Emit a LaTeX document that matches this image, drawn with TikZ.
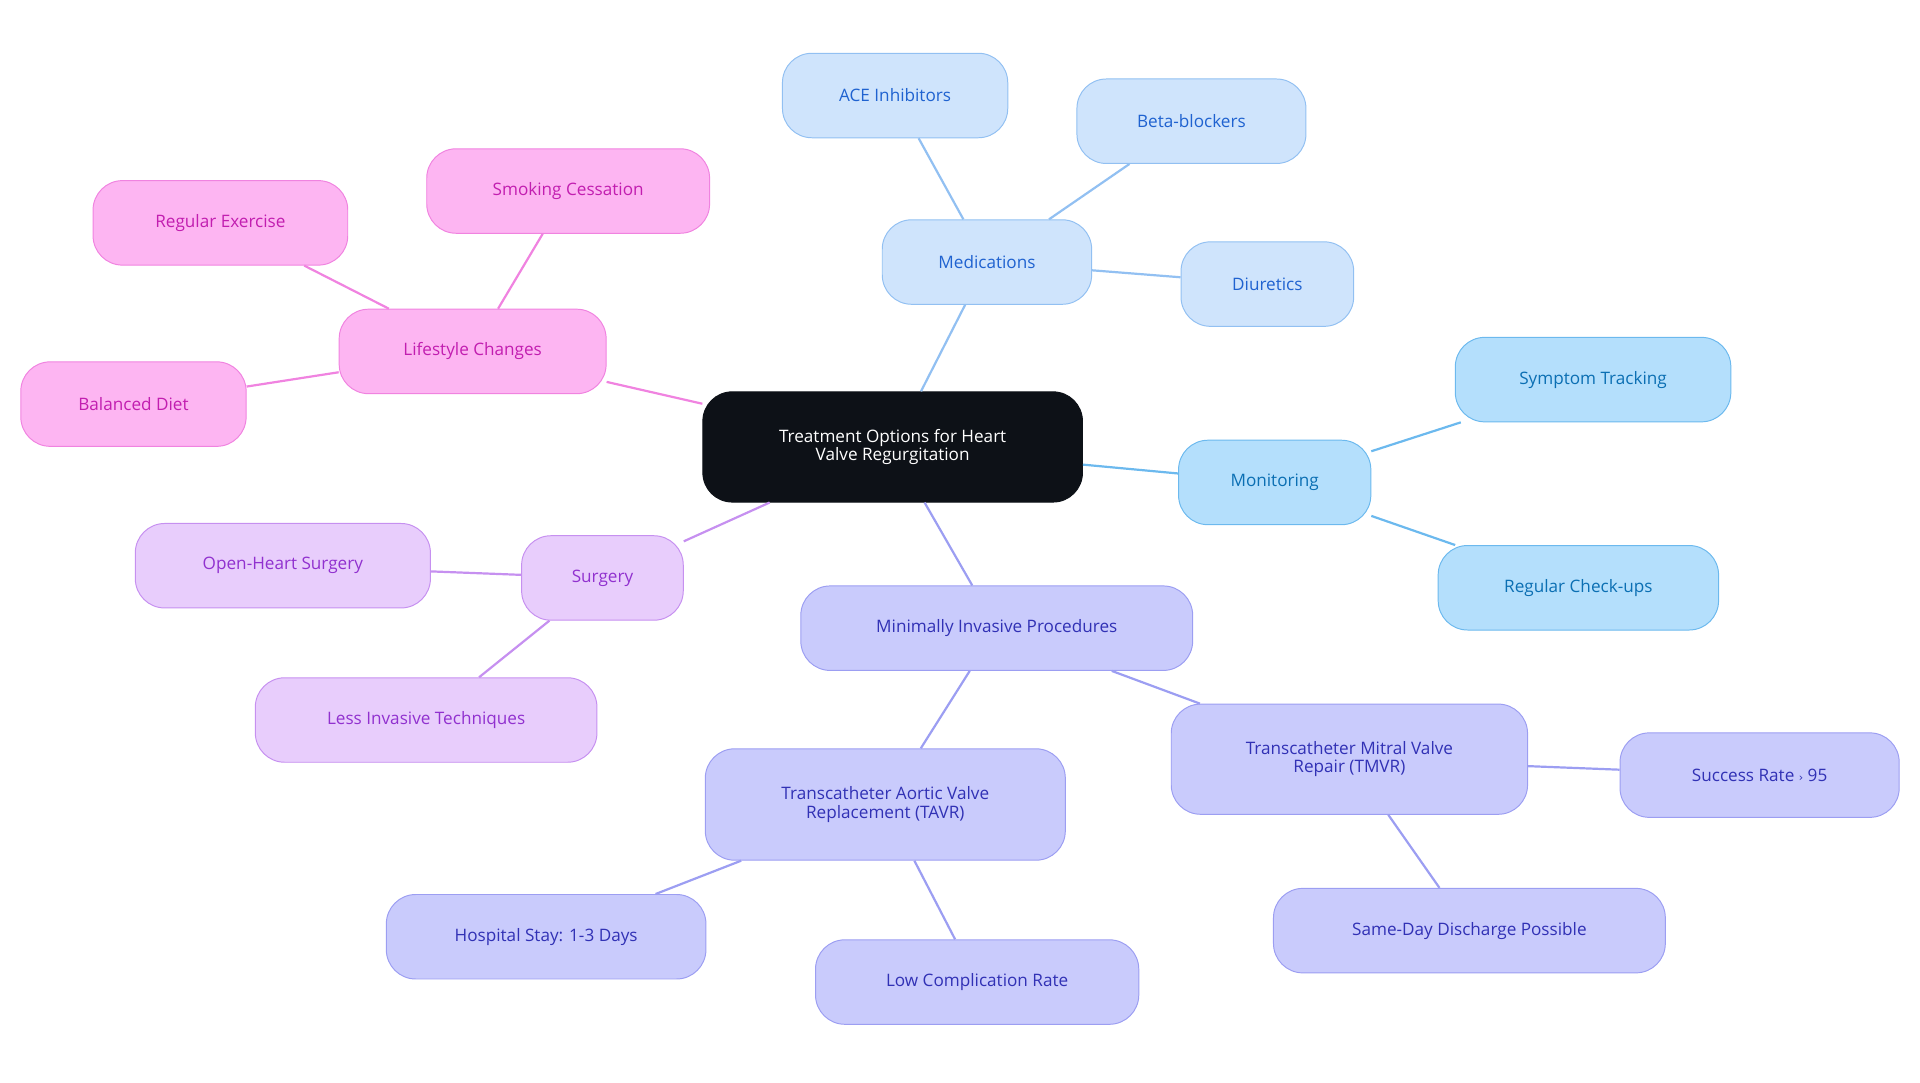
\documentclass[tikz,border=0pt]{standalone}
\usepackage{fontspec}
\setmainfont{Open Sans}
\begin{document}
\begin{tikzpicture}[x=1pt,y=-1pt,
 base/.style={draw,rounded corners=24pt,line width=0.8pt,align=center,font=\fontsize{14}{15}\selectfont,inner sep=0pt,minimum height=69pt},
 med/.style={base,fill=medF,draw=medD,text=medT},
 mon/.style={base,fill=monF,draw=monD,text=monT},
 min/.style={base,fill=minF,draw=minD,text=minT},
 sur/.style={base,fill=surF,draw=surD,text=surT},
 lif/.style={base,fill=lifF,draw=lifD,text=lifT},
 e/.style={line width=1.8pt}]
\definecolor{medF}{HTML}{CFE4FC}\definecolor{medD}{HTML}{92C0F2}\definecolor{medT}{HTML}{1F62D0}
\definecolor{monF}{HTML}{B4DFFC}\definecolor{monD}{HTML}{6CB9EE}\definecolor{monT}{HTML}{0B6FB3}
\definecolor{minF}{HTML}{C9CBFC}\definecolor{minD}{HTML}{9C9EF2}\definecolor{minT}{HTML}{3131B5}
\definecolor{surF}{HTML}{E8CDFC}\definecolor{surD}{HTML}{C690F0}\definecolor{surT}{HTML}{9131CF}
\definecolor{lifF}{HTML}{FDB5F2}\definecolor{lifD}{HTML}{F083E0}\definecolor{lifT}{HTML}{C21EB0}
\definecolor{rootF}{HTML}{0D1117}
\useasboundingbox (0,0) rectangle (1568,884);
\node[base,fill=rootF,draw=rootF,text=white,minimum width=310pt,minimum height=90pt] (root) at (729,365) {Treatment Options for Heart\\Valve Regurgitation};
\node[med,minimum width=171pt] (medi) at (806,214) {Medications};
\node[med,minimum width=184pt] (ace) at (731,78) {ACE Inhibitors};
\node[med,minimum width=187pt] (beta) at (973,99) {Beta-blockers};
\node[med,minimum width=141pt] (diu) at (1035,232) {Diuretics};
\node[mon,minimum width=157pt] (moni) at (1041,394) {Monitoring};
\node[mon,minimum width=225pt] (sym) at (1301,310) {Symptom Tracking};
\node[mon,minimum width=229pt] (chk) at (1289,480) {Regular Check-ups};
\node[min,minimum width=320pt] (mip) at (814,513) {Minimally Invasive Procedures};
\node[min,minimum width=291pt,minimum height=90pt] (tmvr) at (1102,620) {Transcatheter Mitral Valve\\Repair (TMVR)};
\node[min,minimum width=228pt] (succ) at (1437,633) {Success Rate {\fontspec{DejaVu Sans}\small›} 95};
\node[min,minimum width=320pt] (same) at (1200,760) {Same-Day Discharge Possible};
\node[min,minimum width=294pt,minimum height=91pt] (tavr) at (723,657) {Transcatheter Aortic Valve\\Replacement (TAVR)};
\node[min,minimum width=261pt] (hosp) at (446,765) {Hospital Stay: 1-3 Days};
\node[min,minimum width=264pt] (low) at (798,802) {Low Complication Rate};
\node[sur,minimum width=132pt] (surg) at (492,472) {Surgery};
\node[sur,minimum width=241pt] (open) at (231,462) {Open-Heart Surgery};
\node[sur,minimum width=279pt] (less) at (348,588) {Less Invasive Techniques};
\node[lif,minimum width=218pt] (life) at (386,287) {Lifestyle Changes};
\node[lif,minimum width=231pt] (smok) at (464,156) {Smoking Cessation};
\node[lif,minimum width=208pt] (exer) at (180,182) {Regular Exercise};
\node[lif,minimum width=184pt] (diet) at (109,330) {Balanced Diet};
\begin{scope}[on background layer/.style={}]
\end{scope}
\draw[e,medD] (root) -- (medi); \draw[e,medD] (medi) -- (ace); \draw[e,medD] (medi) -- (beta); \draw[e,medD] (medi) -- (diu);
\draw[e,monD] (root) -- (moni); \draw[e,monD] (moni) -- (sym); \draw[e,monD] (moni) -- (chk);
\draw[e,minD] (root) -- (mip); \draw[e,minD] (mip) -- (tmvr); \draw[e,minD] (mip) -- (tavr);
\draw[e,minD] (tmvr) -- (succ); \draw[e,minD] (tmvr) -- (same); \draw[e,minD] (tavr) -- (hosp); \draw[e,minD] (tavr) -- (low);
\draw[e,surD] (root) -- (surg); \draw[e,surD] (surg) -- (open); \draw[e,surD] (surg) -- (less);
\draw[e,lifD] (root) -- (life); \draw[e,lifD] (life) -- (smok); \draw[e,lifD] (life) -- (exer); \draw[e,lifD] (life) -- (diet);
\end{tikzpicture}
\end{document}
